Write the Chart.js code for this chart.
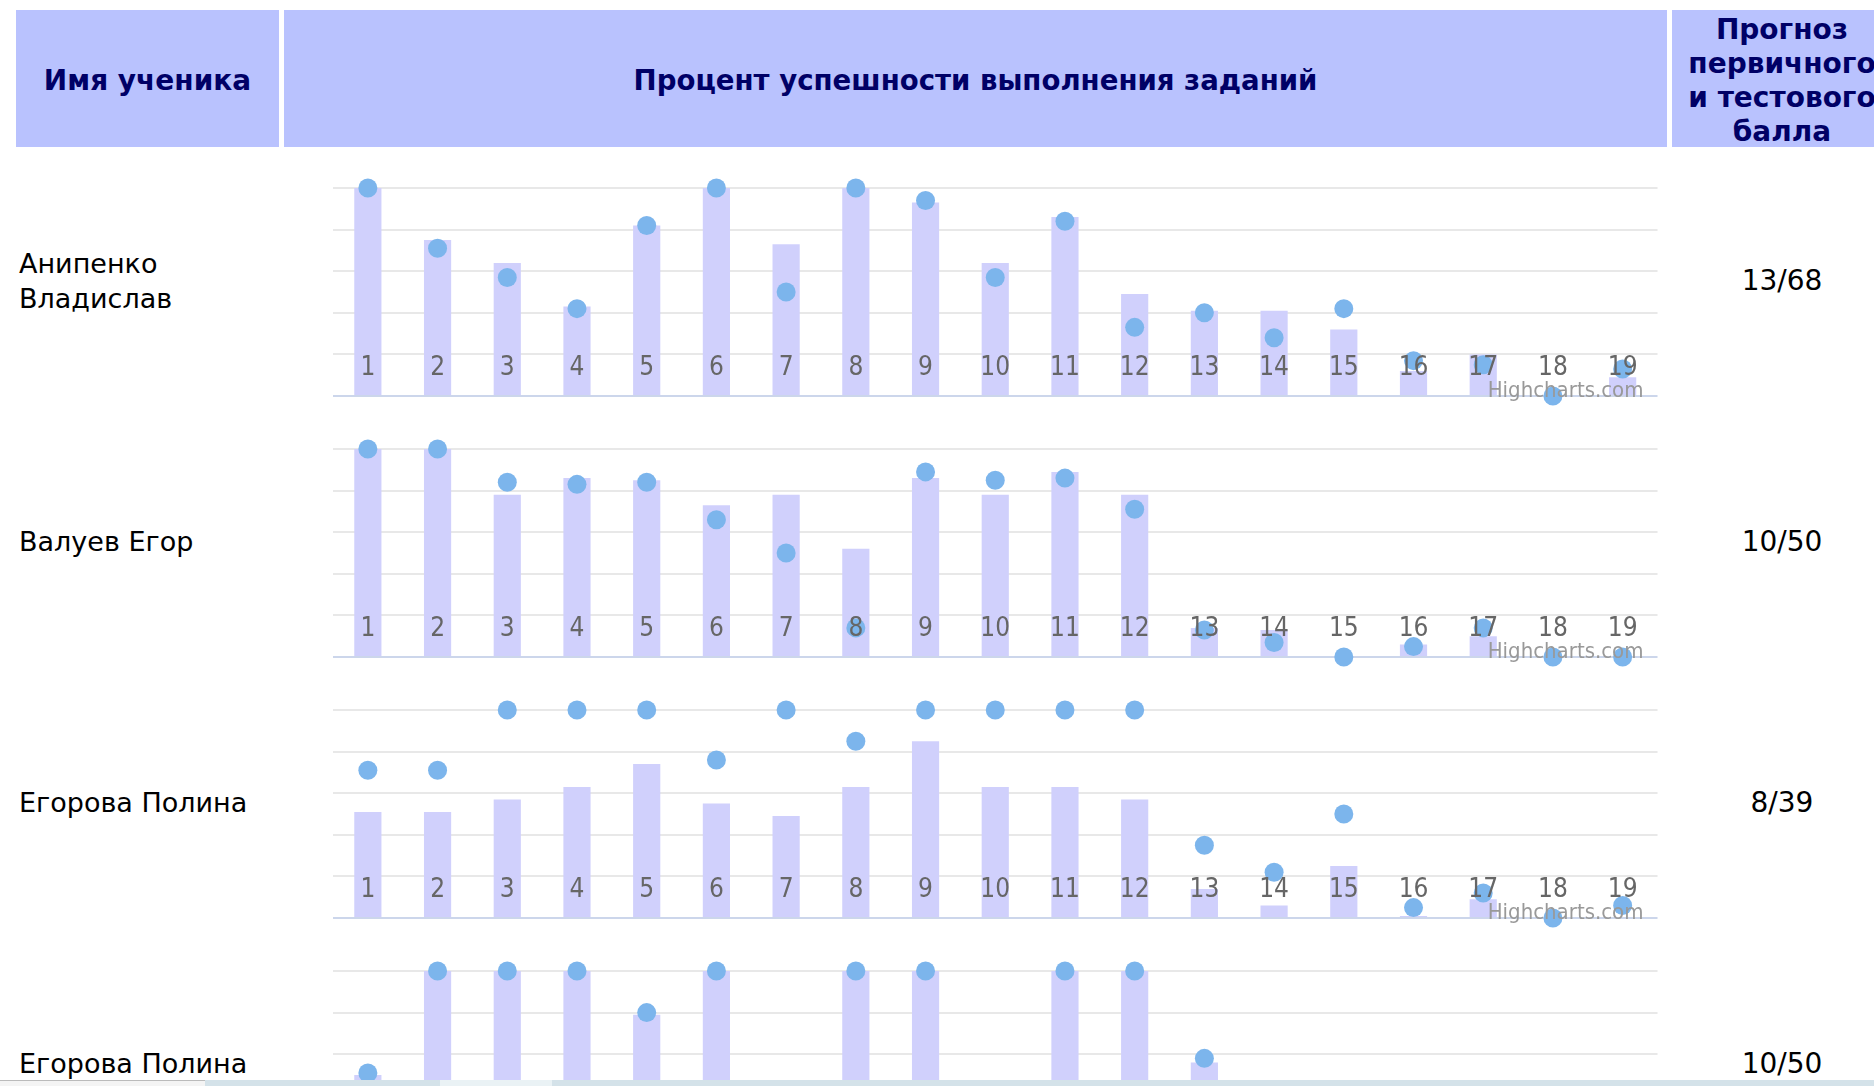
<!DOCTYPE html>
<html lang="ru">
<head>
<meta charset="utf-8">
<title>Процент успешности выполнения заданий</title>
<script src="https://cdn.jsdelivr.net/npm/chart.js@4.4.0/dist/chart.umd.min.js"></script>
<style>
    html, body {
        margin: 0;
        padding: 0;
        overflow: hidden;
        background: #ffffff;
        font-family: "DejaVu Sans", Verdana, sans-serif;
    }
    .head-cell {
        position: absolute;
        top: 10px;
        height: 137px;
        box-sizing: border-box;
        padding-top: 4px;
        background: #b9c2fe;
        color: #000066;
        font-weight: bold;
        font-size: 28px;
        display: flex;
        align-items: center;
        justify-content: center;
        text-align: center;
        line-height: 34px;
    }
    .name-cell, .score-cell {
        position: absolute;
        height: 261px;
        display: flex;
        align-items: center;
        line-height: 35px;
        color: #000000;
    }
    .name-cell { left: 19px; width: 260px; font-size: 27px; }
    .score-cell { left: 1672px; width: 220px; justify-content: center; font-size: 28px; }
    .chart-cell {
        position: absolute;
        left: 284px;
    }
    .bottom-strip {
        position: fixed;
        left: 0;
        right: 0;
        bottom: 0;
        height: 6px;
        background: #d4e2e9;
    }
    .bottom-strip .box {
        position: absolute;
        left: 0;
        width: 205px;
        height: 6px;
        background: #f4f4f4;
        border-top: 1px solid #bbbbbb;
        box-sizing: border-box;
    }
    .bottom-strip .thumb {
        position: absolute;
        left: 440px;
        width: 112px;
        height: 6px;
        background: #eaf2f5;
    }
</style>
</head>
<body>
<div class="head-cell" style="left:16px;width:263px;">Имя ученика</div>
<div class="head-cell" style="left:284px;width:1383px;font-size:27.6px;">Процент успешности выполнения заданий</div>
<div class="head-cell" style="left:1672px;width:220px;">Прогноз<br>первичного<br>и тестового<br>балла</div>
<div id="rows"></div>
<div class="bottom-strip"><div class="box"></div><div class="thumb"></div></div>

<script>
// task numbers on the x axis
const taskLabels = ['1', '2', '3', '4', '5', '6', '7', '8', '9', '10', '11', '12', '13', '14', '15', '16', '17', '18', '19'];

const studentNames = ['Анипенко<br>Владислав', 'Валуев Егор', 'Егорова Полина', 'Егорова Полина'];
const studentScores = ['13/68', '10/50', '8/39', '10/50'];

// columns (bars) and markers (dots), percent
const barsAnipenko = [100, 75, 64, 43, 82, 100, 73, 100, 93, 64, 86, 49, 41, 41, 32, 12, 20, 0, 9];
const dotsAnipenko = [100, 71, 57, 42, 82, 100, 50, 100, 94, 57, 84, 33, 40, 28, 42, 17, 15, 0, 13];

const barsValuev = [100, 100, 78, 86, 85, 73, 78, 52, 86, 78, 89, 78, 14, 13, 0, 6, 10, 0, 0];
const dotsValuev = [100, 100, 84, 83, 84, 66, 50, 14, 89, 85, 86, 71, 13, 7, 0, 5, 14, 0, 0];

const barsEgorova1 = [51, 51, 57, 63, 74, 55, 49, 63, 85, 63, 63, 57, 14, 6, 25, 1, 9, 0, 0];
const dotsEgorova1 = [71, 71, 100, 100, 100, 76, 100, 85, 100, 100, 100, 100, 35, 22, 50, 5, 12, 0, 6];

const barsEgorova2 = [50, 100, 100, 100, 79, 100, 30, 100, 100, 40, 100, 100, 56, 20, 20, 10, 10, 0, 5];
const dotsEgorova2 = [51, 100, 100, 100, 80, 100, 30, 100, 100, 40, 100, 100, 58, 15, 20, 5, 10, 0, 5];

const yTicks = [0, 20, 40, 60, 80, 100];

const rowBars = [barsAnipenko, barsValuev, barsEgorova1, barsEgorova2];
const rowDots = [dotsAnipenko, dotsValuev, dotsEgorova1, dotsEgorova2];

const ROW_TOP = 150;
const ROW_HEIGHT = 261;

// task numbers drawn inside the plot + credit text, over the series like in highcharts
const insideLabels = {
    id: 'insideLabels',
    afterDatasetsDraw(chart) {
        const ctx = chart.ctx;
        const area = chart.chartArea;
        const xScale = chart.scales.x;
        ctx.save();
        ctx.font = '26px "Liberation Sans Narrow", "DejaVu Sans Condensed", sans-serif';
        ctx.fillStyle = '#666666';
        ctx.textAlign = 'center';
        ctx.textBaseline = 'middle';
        taskLabels.forEach((label, i) => {
            ctx.fillText(label, xScale.getPixelForValue(i), area.bottom - 28);
        });
        ctx.font = '22px "Liberation Sans Narrow", "DejaVu Sans Condensed", sans-serif';
        ctx.fillStyle = '#999999';
        ctx.textAlign = 'right';
        ctx.fillText('Highcharts.com', area.right - 14, area.bottom - 5);
        ctx.restore();
    }
};

function renderTaskChart(canvas, bars, dots) {
    new Chart(canvas.getContext('2d'), {
        type: 'bar',
        data: {
            labels: taskLabels,
            datasets: [
                {
                    type: 'line',
                    data: dots,
                    showLine: false,
                    pointRadius: 9.5,
                    pointHoverRadius: 9.5,
                    pointBackgroundColor: '#7cb5ec',
                    pointBorderWidth: 0,
                    clip: false,
                    order: 0
                },
                {
                    type: 'bar',
                    data: bars,
                    backgroundColor: '#d0d0fc',
                    borderWidth: 0,
                    barPercentage: 0.39,
                    categoryPercentage: 1,
                    order: 1
                }
            ]
        },
        options: {
            responsive: false,
            animation: false,
            devicePixelRatio: 1,
            layout: {
                padding: { left: 49, right: 7, top: 38, bottom: 15 }
            },
            scales: {
                x: {
                    display: false
                },
                y: {
                    min: 0,
                    max: 100,
                    afterBuildTicks: axis => {
                        axis.ticks = yTicks.map(v => ({ value: v }));
                    },
                    ticks: { display: false },
                    border: { display: false },
                    grid: {
                        drawTicks: false,
                        lineWidth: 2,
                        color: ctx => ctx.tick && ctx.tick.value === 0 ? '#ccd6eb' : '#e8e8e8'
                    }
                }
            },
            plugins: {
                legend: { display: false },
                tooltip: { enabled: false }
            }
        },
        plugins: [insideLabels]
    });
}

document.addEventListener('DOMContentLoaded', function() {
    const rows = document.getElementById('rows');

    studentNames.forEach((name, i) => {
        const top = ROW_TOP + i * ROW_HEIGHT;

        const nameCell = document.createElement('div');
        nameCell.className = 'name-cell';
        nameCell.style.top = top + 'px';
        nameCell.innerHTML = name;
        rows.appendChild(nameCell);

        const chartCell = document.createElement('div');
        chartCell.className = 'chart-cell';
        chartCell.style.top = top + 'px';
        const canvas = document.createElement('canvas');
        canvas.width = 1383;
        canvas.height = ROW_HEIGHT;
        chartCell.appendChild(canvas);
        rows.appendChild(chartCell);

        const scoreCell = document.createElement('div');
        scoreCell.className = 'score-cell';
        scoreCell.style.top = top + 'px';
        scoreCell.textContent = studentScores[i];
        rows.appendChild(scoreCell);

        renderTaskChart(canvas, rowBars[i], rowDots[i]);
    });
});
</script>
</body>
</html>
